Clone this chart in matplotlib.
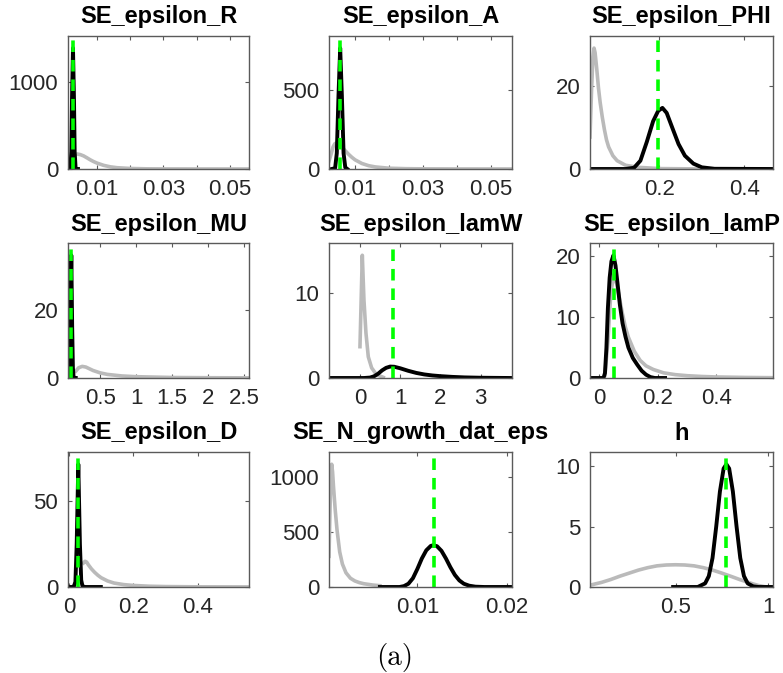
import matplotlib
matplotlib.use("Agg")
import matplotlib.pyplot as plt

plt.rcParams['font.family'] = ['Liberation Sans', 'DejaVu Sans']

titles = ["SE_epsilon_R", "SE_epsilon_A", "SE_epsilon_PHI",
          "SE_epsilon_MU", "SE_epsilon_lamW", "SE_epsilon_lamP",
          "SE_epsilon_D", "SE_N_growth_dat_eps", "h"]

# ---- SE_epsilon_R ----
R_prior_x = [0.0043, 0.005, 0.006, 0.007, 0.008, 0.009, 0.010, 0.012, 0.014, 0.016, 0.020, 0.025, 0.030, 0.040, 0.0557]
R_prior_y = [170, 165, 150, 128, 105, 85, 68, 42, 25, 15, 6, 2, 1, 0.3, 0.1]
R_post_x = [0.0013, 0.0020, 0.0023, 0.0025, 0.0028, 0.0031, 0.0033, 0.0036, 0.0043]
R_post_y = [0, 0, 200, 800, 1386, 800, 200, 0, 0]
R_mode = 0.0029

# ---- SE_epsilon_A ----
A_prior_x = [0.0023, 0.003, 0.0035, 0.004, 0.0045, 0.005, 0.006, 0.007, 0.008, 0.009, 0.010, 0.012, 0.014, 0.016, 0.020, 0.025, 0.030, 0.040, 0.0563]
A_prior_y = [50, 100, 140, 160, 165, 160, 140, 118, 95, 75, 58, 35, 21, 13, 5, 2, 1, 0.3, 0.1]
A_post_x = [0.0031, 0.0041, 0.0046, 0.0051, 0.0056, 0.0061, 0.0066, 0.0071, 0.0077]
A_post_y = [0, 5, 100, 465, 766, 465, 100, 10, 0]
A_mode = 0.0056

# ---- SE_epsilon_PHI ----
PHI_prior_x = [0.036, 0.040, 0.043, 0.0455, 0.048, 0.052, 0.056, 0.060, 0.065, 0.070, 0.075, 0.080, 0.090, 0.100, 0.120, 0.150, 0.200, 0.290]
PHI_prior_y = [7.7, 20, 27, 29.1, 28, 24, 19.5, 16, 12.5, 9.5, 7, 5.3, 3.2, 2.0, 0.9, 0.4, 0.1, 0.02]
PHI_post_x = [0.036, 0.120, 0.140, 0.155, 0.170, 0.185, 0.197, 0.207, 0.217, 0.230, 0.245, 0.260, 0.280, 0.300, 0.330, 0.468]
PHI_post_y = [0, 0, 0.3, 2, 6.5, 11.5, 14, 14.7, 13.5, 10, 6, 3.2, 1.3, 0.4, 0.05, 0]
PHI_mode = 0.197

# ---- SE_epsilon_MU ----
MU_prior_x = [0.16, 0.20, 0.25, 0.30, 0.35, 0.40, 0.50, 0.60, 0.80, 1.00, 1.50, 2.00, 2.57]
MU_prior_y = [2.0, 3.0, 3.4, 3.2, 2.7, 2.2, 1.5, 1.05, 0.6, 0.38, 0.15, 0.08, 0.04]
MU_post_x = [0.052, 0.065, 0.075, 0.085, 0.098, 0.110, 0.120, 0.130, 0.140, 0.160]
MU_post_y = [0, 0.1, 2, 15, 35.9, 15, 3, 0.3, 0, 0]
MU_mode = 0.098

# ---- SE_epsilon_lamW ----
lamW_prior_x = [0.0, 0.058, 0.099, 0.149, 0.207, 0.29, 0.41, 0.58]
lamW_prior_y = [3.7, 14.5, 9.2, 5.3, 2.5, 1.2, 0.4, 0.08]
lamW_post_x = [-0.77, 0.10, 0.25, 0.35, 0.45, 0.55, 0.65, 0.75, 0.85, 1.0, 1.2, 1.4, 1.6, 1.8, 2.0, 2.3, 2.6, 3.0, 3.5, 3.78]
lamW_post_y = [0, 0, 0.05, 0.2, 0.5, 0.9, 1.2, 1.35, 1.33, 1.15, 0.85, 0.6, 0.42, 0.3, 0.22, 0.13, 0.07, 0.03, 0.01, 0]
lamW_mode = 0.826

# ---- SE_epsilon_lamP ----
lamP_prior_x = [0.02, 0.03, 0.04, 0.05, 0.06, 0.07, 0.08, 0.09, 0.10, 0.12, 0.14, 0.16, 0.185, 0.22, 0.26, 0.30, 0.35, 0.40, 0.50, 0.593]
lamP_prior_y = [0.5, 6, 14, 17, 15.5, 13, 10.5, 8.3, 6.7, 4.4, 2.9, 2.0, 1.4, 0.85, 0.55, 0.38, 0.25, 0.17, 0.09, 0.05]
lamP_post_x = [-0.031, 0.015, 0.020, 0.025, 0.030, 0.036, 0.042, 0.049, 0.056, 0.063, 0.071, 0.080, 0.090, 0.100, 0.115, 0.130, 0.145, 0.160, 0.175, 0.190, 0.225]
lamP_post_y = [0, 0, 0.8, 5, 11.5, 16.5, 19.2, 20.2, 18.5, 15.5, 12, 9, 6.8, 5.0, 3.3, 2.2, 1.2, 0.55, 0.15, 0, 0]
lamP_mode = 0.052

# ---- SE_epsilon_D ----
D_prior_x = [0.045, 0.05, 0.055, 0.06, 0.07, 0.08, 0.09, 0.10, 0.12, 0.14, 0.17, 0.20, 0.25, 0.30, 0.40, 0.559]
D_prior_y = [14, 15, 14.5, 13, 10.5, 8.5, 6.8, 5.4, 3.5, 2.3, 1.4, 0.9, 0.45, 0.25, 0.1, 0.04]
D_post_x = [-0.003, 0.010, 0.015, 0.020, 0.024, 0.029, 0.034, 0.038, 0.042, 0.050, 0.099]
D_post_y = [0, 0, 0.2, 3, 25, 71.5, 25, 4, 0.5, 0, 0]
D_mode = 0.029

# ---- SE_N_growth_dat_eps ----
N_prior_x = [0.0001, 0.0002, 0.0003, 0.0004, 0.0005, 0.0006, 0.0008, 0.0010, 0.0013, 0.0016, 0.0020, 0.0025, 0.0030, 0.0035, 0.0040, 0.0050, 0.0058]
N_prior_y = [280, 650, 1000, 1120, 1050, 920, 700, 520, 320, 210, 130, 80, 55, 40, 30, 18, 12]
N_post_x = [0.0058, 0.0080, 0.0085, 0.0090, 0.0095, 0.0100, 0.0105, 0.0110, 0.0115, 0.0118, 0.0122, 0.0127, 0.0132, 0.0137, 0.0142, 0.0147, 0.0152, 0.0158, 0.0165, 0.0175, 0.0206]
N_post_y = [0, 0, 8, 30, 80, 165, 260, 335, 375, 381, 372, 330, 260, 180, 110, 60, 30, 12, 3, 0, 0]
N_mode = 0.0119

# ---- h ----
h_prior_x = [0.0376, 0.10, 0.15, 0.20, 0.25, 0.30, 0.35, 0.40, 0.45, 0.50, 0.55, 0.60, 0.65, 0.70, 0.75, 0.80, 0.85, 0.88, 0.92, 0.95, 0.98, 1.0]
h_prior_y = [0.15, 0.38, 0.62, 0.9, 1.15, 1.4, 1.6, 1.75, 1.82, 1.84, 1.82, 1.75, 1.6, 1.4, 1.15, 0.88, 0.6, 0.45, 0.25, 0.12, 0.03, 0]
h_post_x = [0.487, 0.62, 0.66, 0.68, 0.70, 0.72, 0.74, 0.76, 0.775, 0.79, 0.81, 0.83, 0.85, 0.87, 0.89, 0.92, 0.95, 1.027]
h_post_y = [0, 0, 0.3, 0.9, 2.4, 5.0, 7.9, 9.8, 10.15, 9.8, 7.9, 5.0, 2.4, 0.9, 0.3, 0.05, 0, 0]
h_mode = 0.771

priors_x = [R_prior_x, A_prior_x, PHI_prior_x, MU_prior_x, lamW_prior_x, lamP_prior_x, D_prior_x, N_prior_x, h_prior_x]
priors_y = [R_prior_y, A_prior_y, PHI_prior_y, MU_prior_y, lamW_prior_y, lamP_prior_y, D_prior_y, N_prior_y, h_prior_y]
posts_x = [R_post_x, A_post_x, PHI_post_x, MU_post_x, lamW_post_x, lamP_post_x, D_post_x, N_post_x, h_post_x]
posts_y = [R_post_y, A_post_y, PHI_post_y, MU_post_y, lamW_post_y, lamP_post_y, D_post_y, N_post_y, h_post_y]
modes = [R_mode, A_mode, PHI_mode, MU_mode, lamW_mode, lamP_mode, D_mode, N_mode, h_mode]

xlims = [(0.0013, 0.0557), (0.0023, 0.0563), (0.036, 0.468),
         (0.052, 2.57), (-0.77, 3.78), (-0.031, 0.593),
         (-0.003, 0.559), (0.0001, 0.0206), (0.0376, 1.027)]
xticks = [[0.01, 0.02, 0.03, 0.04, 0.05], [0.01, 0.02, 0.03, 0.04, 0.05], [0.2, 0.4],
          [0.5, 1, 1.5, 2, 2.5], [0, 1, 2, 3], [0, 0.2, 0.4],
          [0, 0.2, 0.4], [0.01, 0.02], [0.5, 1]]
xticklabels = [["0.01", "", "0.03", "", "0.05"], ["0.01", "", "0.03", "", "0.05"], ["0.2", "0.4"],
               ["0.5", "1", "1.5", "2", "2.5"], ["0", "1", "2", "3"], ["0", "0.2", "0.4"],
               ["0", "0.2", "0.4"], ["0.01", "0.02"], ["0.5", "1"]]
yticks = [[0, 1000], [0, 500], [0, 20], [0, 20], [0, 10], [0, 10, 20], [0, 50], [0, 500, 1000], [0, 5, 10]]

W, H = 783, 673
fig = plt.figure(figsize=(W / 100, H / 100), dpi=100)
col_lr = [(68, 249), (329, 512), (590, 773)]
row_tb = [(36, 169), (243, 378), (452, 587)]

frame = '#5a5a5a'
for i in range(9):
    r, c = divmod(i, 3)
    l, rr = col_lr[c]
    t, b = row_tb[r]
    ax = fig.add_axes([l / W, 1 - b / H, (rr - l) / W, (b - t) / H])
    top = 1.1 * max(max(priors_y[i]), max(posts_y[i]))
    ax.plot(priors_x[i], priors_y[i], color='#bababa', lw=2.6, solid_joinstyle='round')
    ax.plot(posts_x[i], posts_y[i], color='black', lw=2.8, solid_joinstyle='round')
    ax.plot([modes[i], modes[i]], [0, top], color='#00ff00', lw=2.6, dashes=(3.2, 2.2))
    ax.set_xlim(*xlims[i])
    ax.set_ylim(0, top)
    ax.set_xticks(xticks[i])
    ax.set_xticklabels(xticklabels[i])
    ax.set_yticks(yticks[i])
    ax.set_yticklabels([str(v) for v in yticks[i]])
    ax.tick_params(direction='in', length=3, width=0.8, color=frame, top=True, right=True,
                   labelsize=16, labelcolor='#262626', pad=7)
    for s in ax.spines.values():
        s.set_color(frame)
        s.set_linewidth(1.0)
    ax.set_title(titles[i], fontsize=17, fontweight='bold', pad=9)

fig.text(395 / W, 1 - 657 / H, "(a)", fontsize=21, family=['cmr10', 'DejaVu Serif'],
         ha='center', va='center')

fig.savefig("out.png", dpi=100)
